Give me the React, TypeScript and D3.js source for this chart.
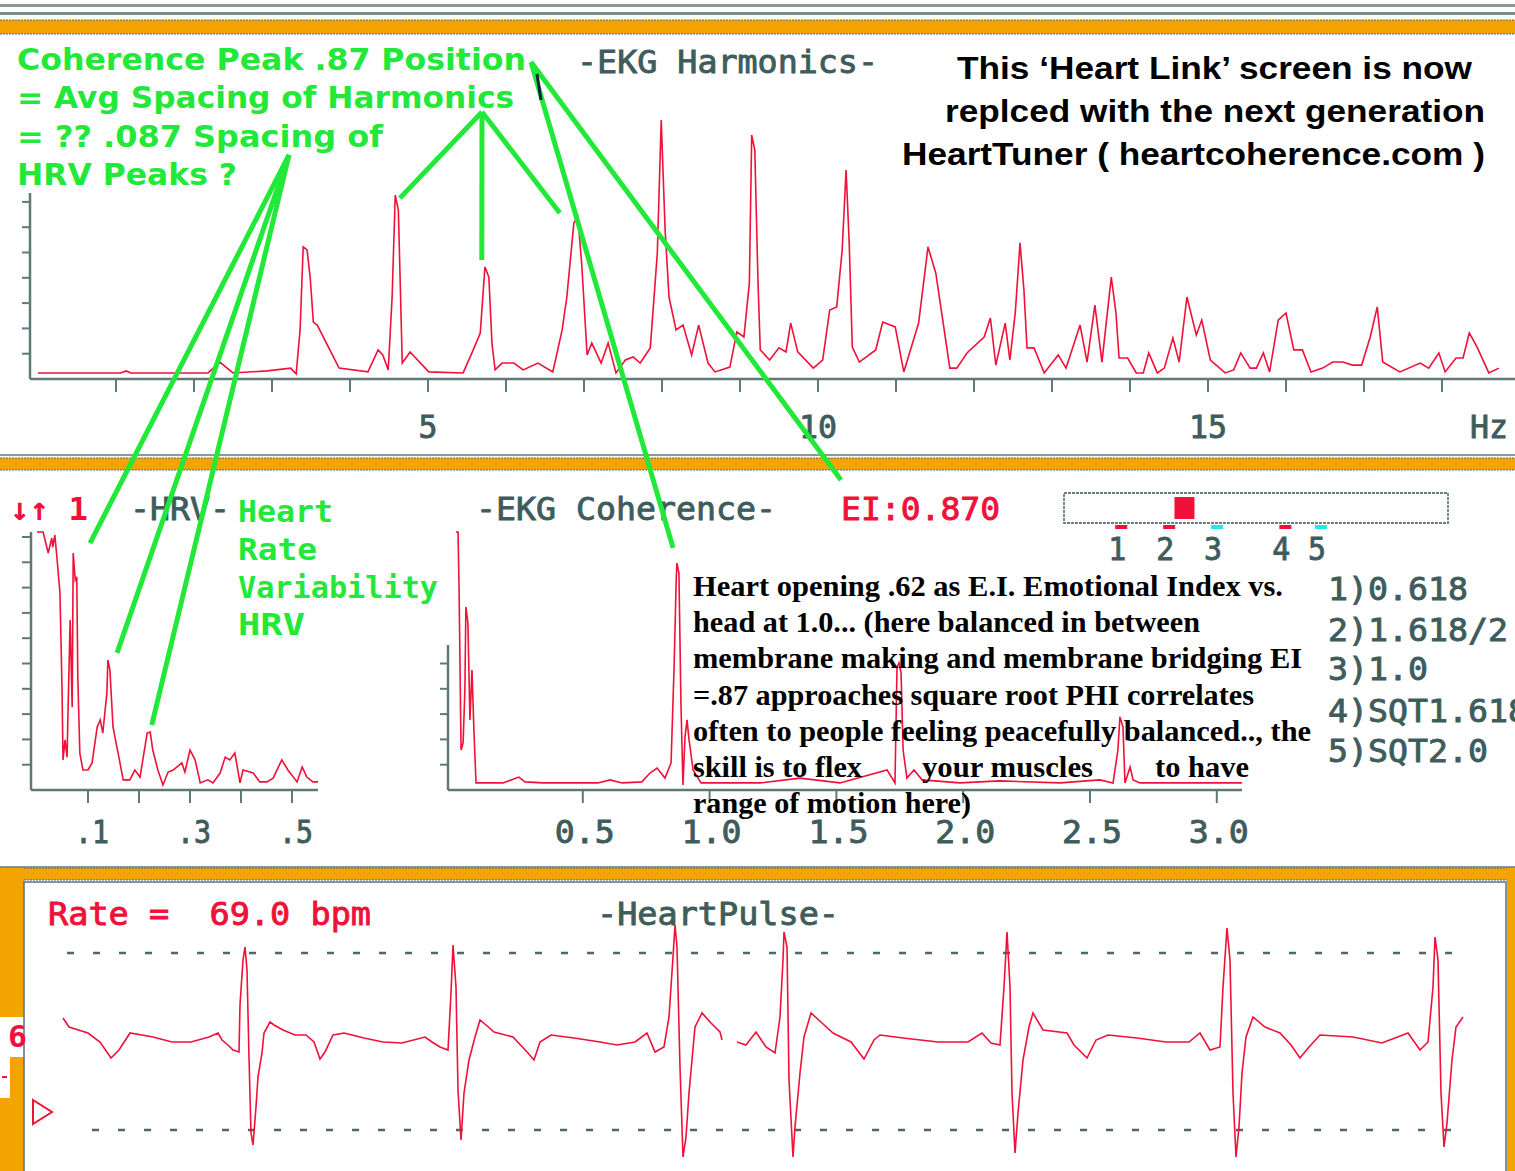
import React from 'react';
import * as d3 from 'd3';

// ---- EKG harmonics spectrum (Hz / amplitude) ----
const harmHz = [0.0, 1.06, 1.13, 1.19, 2.18, 2.33, 2.5, 2.94, 3.24, 3.31, 3.36, 3.4, 3.45, 3.49, 3.53, 3.58, 3.86, 4.23, 4.36, 4.42, 4.49, 4.54, 4.58, 4.62, 4.67, 4.77, 5.01, 5.45, 5.58, 5.67, 5.73, 5.78, 5.82, 5.86, 5.95, 6.1, 6.22, 6.41, 6.6, 6.72, 6.78, 6.87, 6.92, 6.97, 7.04, 7.1, 7.22, 7.31, 7.41, 7.53, 7.63, 7.72, 7.85, 7.94, 7.99, 8.04, 8.09, 8.18, 8.27, 8.38, 8.47, 8.59, 8.68, 8.87, 8.96, 9.05, 9.12, 9.15, 9.19, 9.23, 9.26, 9.38, 9.5, 9.59, 9.65, 9.74, 9.94, 10.06, 10.15, 10.24, 10.31, 10.36, 10.4, 10.44, 10.53, 10.74, 10.83, 10.99, 11.1, 11.29, 11.41, 11.51, 11.69, 11.78, 11.91, 12.13, 12.21, 12.28, 12.4, 12.46, 12.53, 12.59, 12.64, 12.68, 12.77, 12.9, 13.08, 13.18, 13.36, 13.45, 13.55, 13.64, 13.76, 13.82, 13.86, 13.97, 14.08, 14.17, 14.24, 14.35, 14.44, 14.55, 14.63, 14.73, 14.85, 14.92, 15.03, 15.22, 15.33, 15.42, 15.54, 15.62, 15.71, 15.79, 15.9, 16.0, 16.1, 16.21, 16.32, 16.47, 16.6, 16.73, 16.85, 16.97, 17.08, 17.17, 17.24, 17.46, 17.72, 17.83, 17.96, 18.04, 18.18, 18.27, 18.35, 18.45, 18.6, 18.73];
const harmAmp = [2.4, 2.4, 3.2, 2.4, 2.4, 6.7, 2.4, 3.2, 4.3, 2.0, 19.4, 52.2, 51.0, 39.9, 22.5, 21.3, 4.3, 2.8, 11.5, 9.5, 3.6, 32.4, 72.7, 66.8, 6.3, 10.7, 2.8, 2.4, 11.5, 18.2, 44.3, 40.3, 14.2, 3.6, 6.3, 6.3, 3.6, 6.3, 2.8, 19.4, 32.4, 61.7, 64.0, 45.8, 9.5, 14.2, 6.3, 14.2, 2.4, 7.5, 8.7, 6.3, 12.3, 49.8, 102.4, 58.9, 32.4, 19.4, 21.3, 9.5, 21.3, 6.3, 2.8, 4.7, 18.6, 16.6, 37.9, 96.4, 90.5, 39.1, 11.5, 7.5, 12.3, 10.7, 22.1, 10.7, 4.3, 7.5, 27.3, 28.5, 51.0, 82.6, 53.8, 12.6, 6.7, 11.5, 22.5, 20.6, 2.8, 22.1, 52.2, 41.9, 4.3, 4.3, 10.3, 16.6, 24.1, 5.5, 22.1, 7.5, 26.5, 53.8, 35.2, 12.3, 12.3, 2.4, 9.5, 4.3, 21.3, 6.7, 29.2, 6.7, 40.3, 26.1, 8.3, 8.3, 2.4, 2.4, 10.3, 2.4, 4.3, 16.2, 6.7, 32.4, 17.4, 23.3, 7.5, 2.4, 3.6, 10.3, 4.3, 4.3, 10.3, 2.8, 23.3, 26.1, 11.5, 11.5, 2.8, 4.3, 6.7, 6.7, 5.5, 5.5, 16.6, 28.5, 6.7, 2.8, 6.3, 4.3, 10.3, 2.8, 8.3, 8.3, 18.2, 12.6, 2.4, 4.3];
const harmXTicks = [1, 2, 3, 4, 5, 6, 7, 8, 9, 10, 11, 12, 13, 14, 15, 16, 17, 18];
const harmXLabels = [5, 10, 15];
const harmYTicks = [10, 20, 30, 40, 50, 60, 70];

// ---- HRV spectrum ----
const hrvFreq = [0.0, 0.012, 0.022, 0.029, 0.031, 0.035, 0.039, 0.045, 0.049, 0.051, 0.055, 0.059, 0.061, 0.065, 0.069, 0.071, 0.075, 0.078, 0.08, 0.084, 0.09, 0.1, 0.108, 0.118, 0.124, 0.129, 0.137, 0.139, 0.143, 0.149, 0.159, 0.169, 0.182, 0.192, 0.202, 0.216, 0.222, 0.227, 0.237, 0.247, 0.257, 0.267, 0.284, 0.29, 0.3, 0.31, 0.32, 0.335, 0.345, 0.359, 0.369, 0.378, 0.388, 0.398, 0.404, 0.424, 0.437, 0.451, 0.463, 0.48, 0.492, 0.51, 0.52, 0.529, 0.541, 0.551];
const hrvAmp = [102, 102, 93.7, 99.6, 96.0, 100.8, 92.1, 77.9, 40.7, 11.9, 19.8, 13.0, 32.8, 67.2, 32.8, 93.7, 83.0, 84.2, 44.7, 14.6, 7.9, 7.9, 10.7, 24.9, 27.7, 22.5, 38.3, 51.4, 47.4, 24.9, 14.6, 4.0, 4.0, 7.9, 5.1, 22.5, 22.9, 15.8, 7.9, 2.0, 7.1, 7.9, 10.7, 7.1, 15.8, 11.9, 2.8, 4.0, 2.8, 6.7, 13.0, 11.9, 14.6, 2.8, 7.9, 6.7, 3.2, 3.2, 4.7, 11.9, 7.9, 3.2, 9.1, 5.1, 3.2, 3.2];
const hrvXTicks = [0.1, 0.2, 0.3, 0.4, 0.5];
const hrvXLabels = ['.1', '.3', '.5'];
const hrvLabelVals = [0.1, 0.3, 0.5];
const hrvYTicks = [10, 20, 30, 40, 50, 60, 70, 80, 90, 100];

// ---- EKG coherence ----
const cohFreq = [0.0, 0.008, 0.012, 0.02, 0.028, 0.035, 0.039, 0.047, 0.055, 0.063, 0.071, 0.079, 0.106, 0.185, 0.248, 0.272, 0.343, 0.56, 0.607, 0.655, 0.733, 0.765, 0.793, 0.824, 0.848, 0.86, 0.868, 0.871, 0.879, 0.887, 0.895, 0.903, 0.911, 0.919, 0.935, 0.966, 1.199, 1.356, 1.514, 1.7, 1.731, 1.739, 1.747, 1.755, 1.763, 1.778, 1.806, 1.838, 1.987, 2.145, 2.382, 2.539, 2.591, 2.61, 2.618, 2.63, 2.638, 2.658, 2.67, 2.697, 2.855, 3.099];
const cohAmp = [102, 102, 80.2, 15.8, 18.6, 39.5, 72.3, 66.0, 27.7, 47.4, 22.5, 2.8, 2.8, 2.8, 5.1, 3.2, 2.8, 2.8, 4.0, 2.8, 3.2, 6.7, 8.7, 4.7, 10.7, 48.6, 81.8, 89.7, 85.8, 34.4, 2.0, 20.9, 27.7, 19.8, 7.9, 2.8, 2.8, 4.7, 2.8, 7.9, 2.8, 48.6, 50.2, 46.2, 15.8, 4.7, 7.9, 4.0, 2.8, 3.6, 2.8, 4.0, 2.8, 15.8, 28.9, 24.9, 2.8, 9.1, 4.0, 2.8, 2.8, 2.8];
const cohXTicks = [0.5, 1.0, 1.5, 2.0, 2.5, 3.0];
const cohYTicks = [10, 20, 30, 40, 50];

// ---- Emotional index bar ----
const eiValue = 0.87;
const eiMarks = [0.618, 0.809, 1.0, 1.272, 1.414];
const eiMarkLabels = ['1', '2', '3', '4', '5'];
const eiMarkColors = ['#f01038', '#f01038', '#20e8f0', '#f01038', '#20e8f0'];
const ratioList = ['1)0.618', '2)1.618/2', '3)1.0', '4)SQT1.618', '5)SQT2.0'];

// ---- Heart pulse (ms / mV), two sweep segments ----
const ekgT1 = [4, 28, 104, 152, 196, 228, 272, 364, 440, 516, 588, 624, 640, 664, 684, 708, 712, 724, 732, 740, 748, 756, 764, 776, 784, 800, 808, 832, 848, 884, 932, 976, 1008, 1032, 1052, 1084, 1128, 1208, 1284, 1360, 1452, 1480, 1512, 1544, 1556, 1564, 1576, 1584, 1596, 1608, 1628, 1652, 1672, 1696, 1728, 1804, 1864, 1888, 1912, 1956, 2048, 2152, 2220, 2292, 2340, 2372, 2408, 2428, 2444, 2452, 2460, 2472, 2484, 2496, 2508, 2520, 2532, 2560, 2596, 2632, 2640];
const ekgV1 = [0.23, 0.14, 0.08, -0.01, -0.17, -0.09, 0.08, 0.04, -0.01, -0.01, 0.04, 0.08, 0.01, -0.04, -0.09, -0.11, 0.36, 0.81, 0.94, 0.71, -0.16, -0.92, -1.04, -0.66, -0.36, -0.12, 0.08, 0.19, 0.16, 0.11, 0.06, 0.06, -0.01, -0.18, -0.11, 0.06, 0.08, 0.03, -0.01, -0.02, 0.04, -0.01, -0.06, -0.09, 0.48, 0.96, 0.54, -0.49, -0.99, -0.52, -0.19, 0.04, 0.21, 0.16, 0.09, 0.04, -0.12, -0.19, -0.01, 0.06, 0.03, -0.01, -0.04, -0.01, 0.08, -0.11, -0.06, 0.24, 0.84, 1.16, 0.94, -0.26, -1.16, -0.96, -0.52, -0.19, 0.14, 0.28, 0.18, 0.09, 0.01];
const ekgT2 = [2700, 2736, 2776, 2816, 2852, 2872, 2884, 2888, 2900, 2908, 2924, 2932, 2952, 2968, 2996, 3040, 3084, 3156, 3208, 3248, 3272, 3364, 3504, 3624, 3680, 3716, 3752, 3768, 3780, 3792, 3800, 3812, 3824, 3844, 3868, 3884, 3924, 4020, 4048, 4100, 4136, 4184, 4300, 4416, 4508, 4552, 4592, 4632, 4644, 4660, 4672, 4684, 4696, 4708, 4720, 4736, 4764, 4812, 4872, 4916, 4952, 4988, 5032, 5164, 5280, 5384, 5432, 5464, 5484, 5492, 5504, 5516, 5528, 5540, 5560, 5576, 5604];
const ekgV2 = [-0.01, -0.04, 0.09, -0.06, -0.12, 0.24, 0.81, 1.09, 0.94, -0.39, -1.16, -0.86, -0.32, 0.04, 0.28, 0.18, 0.08, -0.01, -0.18, 0.01, 0.06, 0.03, -0.01, -0.01, 0.08, -0.02, -0.04, 0.54, 1.09, 0.54, -0.52, -1.12, -0.72, -0.19, 0.14, 0.28, 0.11, 0.08, -0.04, -0.17, 0.01, 0.06, 0.03, -0.01, -0.01, 0.08, -0.09, -0.06, 0.54, 1.13, 0.81, -0.52, -1.16, -0.86, -0.32, 0.04, 0.24, 0.14, 0.08, -0.04, -0.17, -0.06, 0.06, 0.04, -0.02, 0.08, -0.09, -0.01, 0.54, 1.04, 0.81, -0.52, -1.06, -0.82, -0.19, 0.14, 0.24];
const ekgRefLines = [0.88, -0.89];

// ---- annotation targets (chart data coordinates) ----
const harmTargets = [[4.64, 71.5], [5.69, 47], [6.69, 65.6]];
const hrvTargets = [[0.104, 97.6], [0.157, 54.2], [0.225, 25.7]];
const cohTarget = [0.856, 95.7];

const RED = '#f01038';
const GREEN = '#22e83a';
const GRAY = '#3f5c5c';
const AXIS = '#5f7878';
const ORANGE = '#f4a400';
const MONO = "'DejaVu Sans Mono', 'Liberation Mono', monospace";
const SANS = "'Liberation Sans', Arial, sans-serif";
const DSANS = "'DejaVu Sans', 'Liberation Sans', sans-serif";
const SERIF = "'Liberation Serif', 'Times New Roman', serif";

const harmX = d3.scaleLinear().domain([0, 19]).range([38, 1520]);
const harmY = d3.scaleLinear().domain([0, 100]).range([379, 126]);
const hrvX = d3.scaleLinear().domain([0, 0.5]).range([37, 292]);
const hrvY = d3.scaleLinear().domain([0, 100]).range([790, 537]);
const cohX = d3.scaleLinear().domain([0, 3]).range([456, 1216.8]);
const cohY = d3.scaleLinear().domain([0, 100]).range([790, 537]);
const ekgX = d3.scaleLinear().domain([0, 5800]).range([62, 1512]);
const ekgY = d3.scaleLinear().domain([-1, 1]).range([1141, 941]);
const eiX = d3.scaleLinear().domain([0.39, 1.92]).range([1064, 1448]);

const lineOf = (xs: number[], ys: number[], sx: any, sy: any) =>
  d3.line<[number, number]>().x(d => sx(d[0])).y(d => sy(d[1]))(d3.zip(xs, ys) as [number, number][]) || '';

// text helper: thin outline thickens the DOS-like mono glyphs
const Txt = ({ x, y, len, size = 32, fill = GRAY, family = MONO, weight = 'normal', anchor = 'start', thick = 0, children }: any) => (
  <text x={x} y={y} fontSize={size} fill={fill} fontFamily={family} fontWeight={weight} textAnchor={anchor}
    stroke={thick ? fill : 'none'} strokeWidth={thick}
    style={{ whiteSpace: 'pre' }}
    textLength={len} lengthAdjust={len ? 'spacingAndGlyphs' : undefined}>{children}</text>
);

const Band = ({ y, h }: { y: number; h: number }) => (
  <g>
    <rect x={0} y={y} width={1515} height={h} fill={ORANGE} />
    <line x1={0} x2={1515} y1={y} y2={y} stroke="#4c6c80" strokeWidth={1.2} strokeDasharray="2 1" />
    <line x1={0} x2={1515} y1={y + h} y2={y + h} stroke="#4c6c80" strokeWidth={1.2} strokeDasharray="2 1" />
  </g>
);

const App = () => {
  const serifLines = [
    'Heart opening .62 as E.I. Emotional Index vs.',
    'head at 1.0... (here balanced in between',
    'membrane making and membrane bridging EI',
    '=.87 approaches square root PHI correlates',
    'often to people feeling peacefully balanced.., the',
  ];
  const serifLens = [590, 507, 609, 561, 618];
  const G = 0.9; // gray text thickening
  return (
    <svg width={1515} height={1171} style={{ position: 'absolute', left: 0, top: 0, background: '#fff' }}>
      <rect width={1515} height={1171} fill="#fff" />
      {/* top frame */}
      <rect x={0} y={4} width={1515} height={3} fill="#8a9a9a" />
      <rect x={0} y={12} width={1515} height={3} fill="#7a8c8c" />
      <Band y={20} h={14} />

      {/* ===== EKG Harmonics ===== */}
      <line x1={30} x2={1515} y1={379} y2={379} stroke={AXIS} strokeWidth={2.5} />
      <line x1={30} x2={30} y1={379} y2={193} stroke={AXIS} strokeWidth={2.5} />
      {harmXTicks.map(t => (
        <line key={t} x1={harmX(t)} x2={harmX(t)} y1={379} y2={392} stroke={AXIS} strokeWidth={2} />
      ))}
      {harmYTicks.map(t => (
        <line key={t} x1={22} x2={30} y1={harmY(t)} y2={harmY(t)} stroke={AXIS} strokeWidth={2} />
      ))}
      {harmXLabels.map(t => (
        <Txt key={t} x={harmX(t)} y={438} anchor="middle" thick={G} len={String(t).length * 19}>{t}</Txt>
      ))}
      <Txt x={1470} y={438} len={38} thick={G}>Hz</Txt>
      <path d={lineOf(harmHz, harmAmp, harmX, harmY)} fill="none" stroke={RED} strokeWidth={1.6} />
      <Txt x={577} y={73} len={301} thick={G}>-EKG Harmonics-</Txt>

      <Txt x={957} y={79} len={515} size={31} fill="#000" family={SANS} weight="bold">This ‘Heart Link’ screen is now</Txt>
      <Txt x={945} y={122} len={540} size={31} fill="#000" family={SANS} weight="bold">replced with the next generation</Txt>
      <Txt x={902} y={165} len={583} size={31} fill="#000" family={SANS} weight="bold">HeartTuner ( heartcoherence.com )</Txt>

      <Txt x={17} y={70} len={509} size={30} fill={GREEN} family={DSANS} weight="bold">Coherence Peak .87 Position</Txt>
      <Txt x={17} y={108} len={497} size={30} fill={GREEN} family={DSANS} weight="bold">= Avg Spacing of Harmonics</Txt>
      <Txt x={17} y={147} len={366} size={30} fill={GREEN} family={DSANS} weight="bold">= ?? .087 Spacing of</Txt>
      <Txt x={17} y={185} len={220} size={30} fill={GREEN} family={DSANS} weight="bold">HRV Peaks ?</Txt>

      {/* middle band */}
      <line x1={0} x2={1515} y1={455} y2={455} stroke="#8a9a9a" strokeWidth={2} />
      <Band y={458} h={12} />

      {/* ===== HRV ===== */}
      <line x1={31} x2={318} y1={790} y2={790} stroke={AXIS} strokeWidth={2.5} />
      <line x1={31} x2={31} y1={790} y2={532} stroke={AXIS} strokeWidth={2.5} />
      {hrvXTicks.map(t => (
        <line key={t} x1={hrvX(t)} x2={hrvX(t)} y1={790} y2={803} stroke={AXIS} strokeWidth={2} />
      ))}
      {hrvYTicks.map(t => (
        <line key={t} x1={22} x2={31} y1={hrvY(t)} y2={hrvY(t)} stroke={AXIS} strokeWidth={2} />
      ))}
      {hrvXLabels.map((l, i) => (
        <Txt key={l} x={hrvX(hrvLabelVals[i]) + 4} y={843} anchor="middle" thick={G} len={34}>{l}</Txt>
      ))}
      <path d={lineOf(hrvFreq, hrvAmp, hrvX, hrvY)} fill="none" stroke={RED} strokeWidth={1.6} />
      <Txt x={10} y={520} len={78} fill={RED} weight="bold">↓↑ 1</Txt>
      <Txt x={130} y={520} len={100} thick={G}>-HRV-</Txt>
      <Txt x={238} y={522} len={95} size={30} fill={GREEN} weight="bold">Heart</Txt>
      <Txt x={238} y={560} len={79} size={30} fill={GREEN} weight="bold">Rate</Txt>
      <Txt x={238} y={598} len={200} size={30} fill={GREEN} weight="bold">Variability</Txt>
      <Txt x={238} y={635} len={67} size={30} fill={GREEN} weight="bold">HRV</Txt>

      {/* ===== EKG Coherence ===== */}
      <line x1={448} x2={1242} y1={790} y2={790} stroke={AXIS} strokeWidth={2.5} />
      <line x1={448} x2={448} y1={790} y2={645} stroke={AXIS} strokeWidth={2.5} />
      {cohXTicks.map(t => (
        <line key={t} x1={cohX(t)} x2={cohX(t)} y1={790} y2={803} stroke={AXIS} strokeWidth={2} />
      ))}
      {cohYTicks.map(t => (
        <line key={t} x1={440} x2={448} y1={cohY(t)} y2={cohY(t)} stroke={AXIS} strokeWidth={2} />
      ))}
      {cohXTicks.map(t => (
        <Txt key={t} x={cohX(t) + 2} y={843} anchor="middle" thick={G} len={60}>{t.toFixed(1)}</Txt>
      ))}
      <path d={lineOf(cohFreq, cohAmp, cohX, cohY)} fill="none" stroke={RED} strokeWidth={1.6} />
      <Txt x={476} y={520} len={300} thick={G}>-EKG Coherence-</Txt>
      <Txt x={841} y={520} len={159} fill={RED} thick={G}>EI:0.870</Txt>

      {/* EI bar */}
      <rect x={eiX(0.39)} y={493} width={eiX(1.92) - eiX(0.39)} height={30} fill="#fff" stroke="#6a8080" strokeWidth={1.8} strokeDasharray="3 1" />
      <rect x={eiX(eiValue) - 10} y={497} width={20} height={22} fill={RED} />
      {eiMarks.map((m, i) => (
        <g key={m}>
          <rect x={eiX(m) - 6} y={525} width={12} height={4} fill={eiMarkColors[i]} />
          <Txt x={eiX(m) - 4} y={560} anchor="middle" thick={G} len={18}>{eiMarkLabels[i]}</Txt>
        </g>
      ))}
      {ratioList.map((r, i) => (
        <Txt key={r} x={1328} y={[600, 641, 680, 722, 762][i]} thick={G} len={r.length * 20}>{r}</Txt>
      ))}

      {/* serif commentary */}
      {serifLines.map((s, i) => (
        <Txt key={i} x={693} y={596 + i * 36.2} len={serifLens[i]} size={29} fill="#000" family={SERIF} weight="bold">{s}</Txt>
      ))}
      <Txt x={693} y={777} len={169} size={29} fill="#000" family={SERIF} weight="bold">skill is to flex</Txt>
      <Txt x={922} y={777} len={171} size={29} fill="#000" family={SERIF} weight="bold">your muscles</Txt>
      <Txt x={1155} y={777} len={94} size={29} fill="#000" family={SERIF} weight="bold">to have</Txt>
      <Txt x={693} y={813} len={278} size={29} fill="#000" family={SERIF} weight="bold">range of motion here)</Txt>

      {/* ===== Heart pulse ===== */}
      <line x1={0} x2={1515} y1={867} y2={867} stroke="#8a9a9a" strokeWidth={2} />
      <Band y={868} h={12} />
      <rect x={0} y={868} width={24} height={149} fill={ORANGE} />
      <rect x={10} y={1057} width={14} height={41} fill={ORANGE} />
      <rect x={0} y={1098} width={24} height={73} fill={ORANGE} />
      <rect x={1507} y={868} width={8} height={303} fill={ORANGE} />
      <path d="M24,1171 V882 H1506 V1171" fill="none" stroke="#5a7080" strokeWidth={1.5} />
      <line x1={2} x2={7} y1={1077} y2={1077} stroke={RED} strokeWidth={2} />
      <path d="M33,1100 L52,1112 L33,1124 Z" fill="#fff" stroke={RED} strokeWidth={2} />
      <Txt x={8} y={1047} len={19} size={30} fill={RED} weight="bold">6</Txt>

      {ekgRefLines.map((v, i) => (
        <line key={v} x1={i === 0 ? 67 : 92} x2={1470} y1={ekgY(v)} y2={ekgY(v)} stroke="#4e6868" strokeWidth={2.5} strokeDasharray="7 19" />
      ))}
      <path d={lineOf(ekgT1, ekgV1, ekgX, ekgY)} fill="none" stroke={RED} strokeWidth={1.6} />
      <path d={lineOf(ekgT2, ekgV2, ekgX, ekgY)} fill="none" stroke={RED} strokeWidth={1.6} />
      <Txt x={48} y={925} len={323} fill={RED} thick={G}>Rate =  69.0 bpm</Txt>
      <Txt x={597} y={925} len={242} thick={G}>-HeartPulse-</Txt>

      {/* green annotation lines */}
      <g stroke={GREEN} strokeWidth={5} fill="none">
        {harmTargets.map((t, i) => (
          <line key={'h' + i} x1={482} y1={112} x2={harmX(t[0])} y2={harmY(t[1])} />
        ))}
        {hrvTargets.map((t, i) => (
          <line key={'v' + i} x1={289} y1={155} x2={hrvX(t[0])} y2={hrvY(t[1])} />
        ))}
        <line x1={531} y1={62} x2={cohX(cohTarget[0])} y2={cohY(cohTarget[1])} />
        <line x1={531} y1={62} x2={841} y2={480} />
      </g>
      <line x1={537} y1={74} x2={541} y2={100} stroke="#102040" strokeWidth={3} />
    </svg>
  );
};

export default App;
